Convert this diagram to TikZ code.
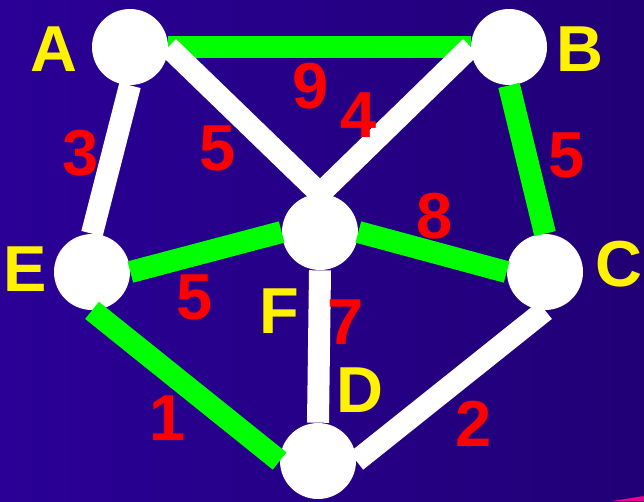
\documentclass[tikz,border=0pt]{standalone}
\usepackage{fontspec}
\setmainfont{Liberation Sans}
\definecolor{bgleft}{RGB}{42,0,150}
\definecolor{bgright}{RGB}{33,0,118}
\begin{document}
\begin{tikzpicture}[x=0.02cm, y=-0.02cm, line join=round,
	vertex/.style={circle, fill=white, minimum size=1.52cm, inner sep=0pt},
	vname/.style={text=yellow, font=\fontsize{37}{37}\selectfont\bfseries, inner sep=0pt},
	weight/.style={text=red, font=\fontsize{37}{37}\selectfont\bfseries, inner sep=0pt},
	tree/.style={draw=green, line width=0.44cm},
	rest/.style={draw=white, line width=0.44cm}]
	% nen
	\shade[left color=bgleft, right color=bgright] (0,0) rectangle (644,501);
	\useasboundingbox (0,0) rectangle (644,501);
	\fill[magenta] (612,501)--(644,496)--(644,501)--cycle;
	% dinh
	\node[vertex] (A) at (130,47) {};
	\node[vertex] (B) at (509,47) {};
	\node[vertex] (E) at (92,272) {};
	\node[vertex] (F) at (320,232) {};
	\node[vertex] (C) at (545,272) {};
	\node[vertex] (D) at (318,461) {};
	% canh
	\draw[tree] (A.east)--(B.west);
	\draw[rest] (A.east)--(F.north);
	\draw[rest] (B.west)--(F.north);
	\draw[rest] (A.south)--(E.north);
	\draw[tree] (B.south)--(C.north);
	\draw[tree] (E.east)--(F.west);
	\draw[tree] (F.east)--(C.west);
	\draw[rest] (F.south)--(D.north);
	\draw[tree] (E.south)--(D.west);
	\draw[rest] (D.east)--(C.south);
	% ten dinh
	\node[vname] (lA) at (54,49) {A};
	\node[vname] (lB) at (580,49) {B};
	\node[vname] (lE) at (25,269) {E};
	\node[vname] (lC) at (619,264) {C};
	\node[vname] (lF) at (279,311) {F};
	\node[vname] (lD) at (360,390) {D};
	% trong so
	\node[weight] (wAB) at (311,86) {9};
	\node[weight] (wBF) at (359,115) {4};
	\node[weight] (wAF) at (218,148) {5};
	\node[weight] (wAE) at (81,153) {3};
	\node[weight] (wBC) at (567,155) {5};
	\node[weight] (wFC) at (435,216) {8};
	\node[weight] (wEF) at (195,297) {5};
	\node[weight] (wFD) at (346,322) {7};
	\node[weight] (wED) at (168,418) {1};
	\node[weight] (wDC) at (474,424) {2};
\end{tikzpicture}
\end{document}
